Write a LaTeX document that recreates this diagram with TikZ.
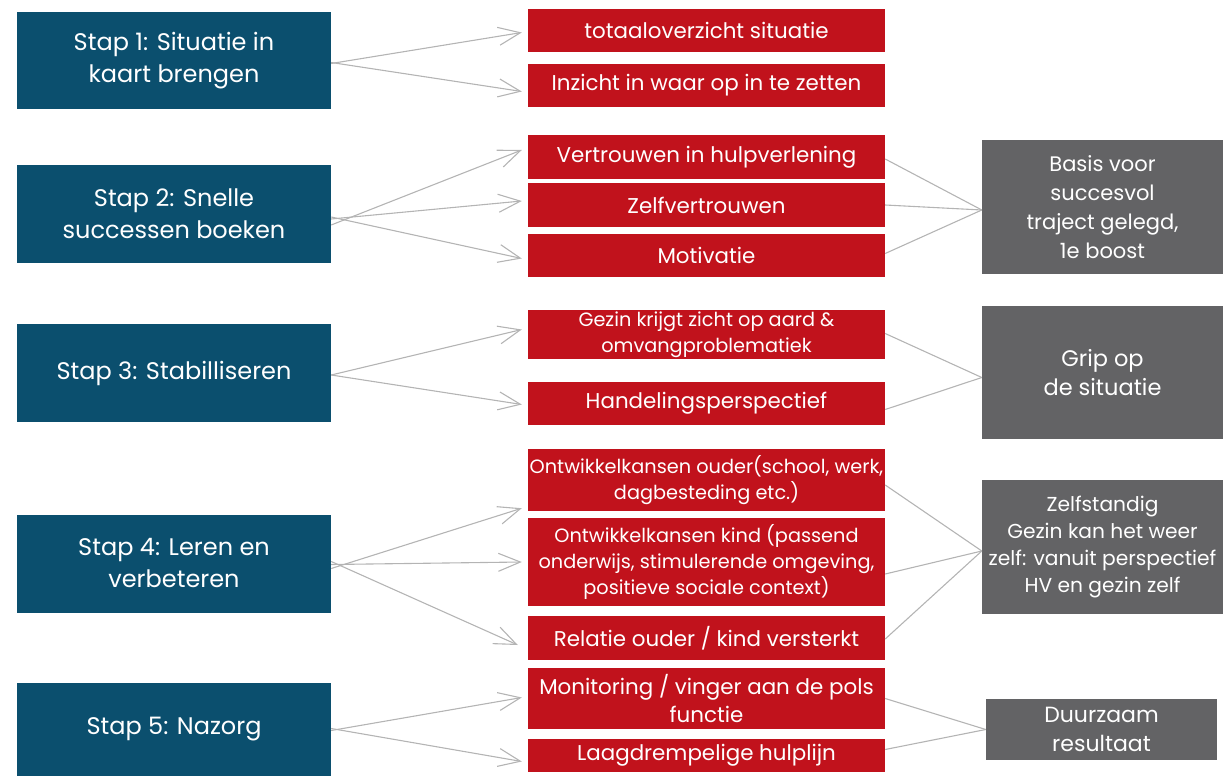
\documentclass[tikz,border=0pt]{standalone}
\usepackage{fontspec}
\setmainfont{Poppins}
\usetikzlibrary{arrows.meta}
\definecolor{stepblue}{HTML}{0B4F6E}
\definecolor{itemred}{HTML}{C1121C}
\definecolor{resgrey}{HTML}{636365}
\definecolor{linegrey}{HTML}{B4B4B4}
\tikzset{
  box/.style={rectangle, inner xsep=0pt, inner ysep=0pt, align=center, text=white},
  stepbox/.style={box, fill=stepblue, minimum width=314pt, font=\fontsize{24}{32}\selectfont},
  itembox/.style={box, fill=itemred, minimum width=357pt, font=\fontsize{21.4}{28}\selectfont},
  smallitem/.style={itembox, font=\fontsize{19.3}{26}\selectfont},
  resbox/.style={box, fill=resgrey, font=\fontsize{21}{29}\selectfont},
  arr/.style={draw=linegrey, line width=1.1pt, -{Straight Barb[length=22pt,width=18pt,line width=1.1pt]}},
  conn/.style={draw=linegrey, line width=1.1pt},
}
\begin{document}
\begin{tikzpicture}[x=1pt,y=-1pt]
\useasboundingbox (0,0) rectangle (1227,776);
% steps
\node[stepbox, minimum height=97pt] (s1) at (174,60.5) {Stap 1: Situatie in\\kaart brengen};
\node[stepbox, minimum height=98pt] (s2) at (174,214) {Stap 2: Snelle\\successen boeken};
\node[stepbox, minimum height=98pt] (s3) at (174,373) {Stap 3: Stabilliseren};
\node[stepbox, minimum height=98pt] (s4) at (174,563.5) {Stap 4: Leren en\\verbeteren};
\node[stepbox, minimum height=93pt] (s5) at (174,729.5) {Stap 5: Nazorg};
% items
\node[itembox, minimum height=43pt] (r1) at (706.5,30.5) {totaaloverzicht situatie};
\node[itembox, minimum height=43pt] (r2) at (706.5,85.5) {Inzicht in waar op in te zetten};
\node[itembox, minimum height=44pt] (r3) at (706.5,157) {Vertrouwen in hulpverlening};
\node[itembox, minimum height=44pt] (r4) at (706.5,205) {Zelfvertrouwen};
\node[itembox, minimum height=43pt] (r5) at (706.5,255.5) {Motivatie};
\node[smallitem, minimum height=49pt] (r6) at (706.5,334.5) {Gezin krijgt zicht op aard \&\\omvangproblematiek};
\node[itembox, minimum height=43pt] (r7) at (706.5,403.5) {Handelingsperspectief};
\node[smallitem, minimum height=62pt] (r8) at (706.5,480) {Ontwikkelkansen ouder(school, werk,\\dagbesteding etc.)};
\node[smallitem, minimum height=88pt] (r9) at (706.5,562) {Ontwikkelkansen kind (passend\\onderwijs, stimulerende omgeving,\\positieve sociale context)};
\node[itembox, minimum height=44pt] (r10) at (706.5,638) {Relatie ouder / kind versterkt};
\node[itembox, minimum height=61pt] (r11) at (706.5,698.5) {Monitoring / vinger aan de pols\\functie};
\node[itembox, minimum height=33pt] (r12) at (706.5,755.5) {Laagdrempelige hulplijn};
% results
\node[resbox, minimum width=241pt, minimum height=134pt] (g1) at (1102.5,207) {Basis voor\\succesvol\\traject gelegd,\\1e boost};
\node[resbox, minimum width=241pt, minimum height=133pt, font=\fontsize{22.5}{29}\selectfont] (g2) at (1102.5,372.5) {Grip op\\de situatie};
\node[resbox, minimum width=241pt, minimum height=134pt, font=\fontsize{20.2}{27}\selectfont] (g3) at (1102.5,547) {Zelfstandig\\Gezin kan het weer\\zelf: vanuit perspectief\\HV en gezin zelf};
\node[resbox, minimum width=231pt, minimum height=61pt, font=\fontsize{22}{29}\selectfont] (g4) at (1101.5,729.5) {Duurzaam\\resultaat};
% arrows
\draw[arr] ([yshift=-3pt]s1.east) -- ([xshift=-6pt,yshift=-2pt]r1.west);
\draw[arr] ([yshift=-2pt]s1.east) -- ([xshift=-6pt,yshift=-6pt]r2.west);
\draw[arr] ([yshift=-11pt]s2.east) -- ([xshift=-6pt,yshift=7pt]r3.west);
\draw[arr] ([yshift=-5pt]s2.east) -- ([xshift=-6pt,yshift=4pt]r4.west);
\draw[arr] ([yshift=-3pt]s2.east) -- ([xshift=-6pt,yshift=-3pt]r5.west);
\draw[arr] ([yshift=-2pt]s3.east) -- ([xshift=-6pt,yshift=5pt]r6.west);
\draw[arr] ([yshift=-2pt]s3.east) -- ([xshift=-6pt,yshift=-1pt]r7.west);
\draw[arr] ([yshift=-5pt]s4.east) -- ([xshift=-6pt,yshift=3pt]r8.south west);
\draw[arr] ([yshift=-1pt]s4.east) -- ([xshift=-6pt]r9.west);
\draw[arr] ([yshift=2pt]s4.east) -- ([xshift=-10pt,yshift=-7pt]r10.west);
\draw[arr] ([yshift=-1pt]s5.east) -- ([xshift=-6pt,yshift=1pt]r11.west);
\draw[arr] ([yshift=1pt]s5.east) -- ([xshift=-6pt,yshift=-6pt]r12.west);
% connectors to results
\draw[conn] ([yshift=-2pt]r3.east) -- ([yshift=-3pt]g1.west);
\draw[conn] (r4.east) -- ([yshift=-3pt]g1.west);
\draw[conn] ([yshift=2pt]r5.east) -- ([yshift=-3pt]g1.west);
\draw[conn] ([yshift=1pt]r6.east) -- ([yshift=-5pt]g2.west);
\draw[conn] ([yshift=-6pt]r7.east) -- ([yshift=-5pt]g2.west);
\draw[conn] ([yshift=-5pt]r8.east) -- ([yshift=-4pt]g3.west);
\draw[conn] ([yshift=-12pt]r9.east) -- ([yshift=-4pt]g3.west);
\draw[conn] ([yshift=-1pt]r10.east) -- ([yshift=-4pt]g3.west);
\draw[conn] (r11.east) -- (g4.west);
\draw[conn] ([yshift=6pt]r12.east) -- (g4.west);
\end{tikzpicture}
\end{document}
